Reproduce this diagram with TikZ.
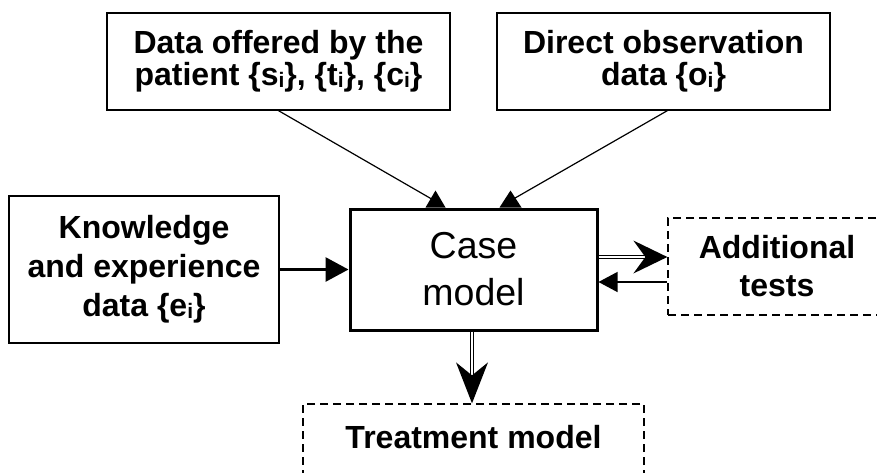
\documentclass[tikz,border=0pt]{standalone}
\usepackage{fontspec}
\setmainfont{Liberation Sans}
\usetikzlibrary{arrows.meta,calc}
\newcommand\subi{\raisebox{-0.06em}{\fontsize{21}{21}\selectfont i}}
\begin{document}
\begin{tikzpicture}[x=1pt,y=-1pt,
  box/.style={draw, line width=1.3pt, inner sep=0pt, align=center, font={\fontsize{32}{32}\selectfont\bfseries}},
  dbox/.style={box, dash pattern=on 8pt off 5pt},
  conn/.style={line width=1.2pt},
  dbl/.style={double, double distance=2.4pt, line width=0.9pt}]
\useasboundingbox (0,0) rectangle (877,472);

\node[box, minimum width=343pt, minimum height=97pt] (pat) at (278.5,61.5)
  {Data offered by the\\patient \{s\subi\}, \{t\subi\}, \{c\subi\}};
\node[box, minimum width=333pt, minimum height=97pt] (obs) at (663.5,61.5)
  {Direct observation\\data \{o\subi\}};
\node[box, minimum width=270pt, minimum height=147pt, font={\fontsize{32}{39}\selectfont\bfseries}] (know) at (144,269.5)
  {Knowledge\\and experience\\data \{e\subi\}};
\node[box, line width=3pt, minimum width=247pt, minimum height=121pt, font={\fontsize{37.5}{47}\selectfont}] (case) at (473.5,269.5)
  {Case\\model};
\node[dbox, minimum width=218pt, minimum height=97pt, font={\fontsize{32}{38}\selectfont\bfseries}] (add) at (777,266.5)
  {Additional\\tests};
\node[dbox, anchor=base, minimum width=341pt, text height=44pt, text depth=40pt] (treat) at (473.5,448)
  {Treatment model};

% patient -> case
\coordinate (c1) at ($(case.north west)+(87,0)$);
\draw[conn] (pat.south) -- ($(c1)+(-3,-8)$);
\fill ($(c1)+(-10,0)$) -- ($(c1)+(0,-17)$) -- ($(c1)+(10,0)$) -- cycle;

% observation -> case
\coordinate (o1) at ($(obs.south west)+(171,0)$);
\coordinate (c2) at ($(case.north west)+(162,0)$);
\draw[conn] (o1) -- ($(c2)+(2,-8)$);
\fill ($(c2)+(-11,0)$) -- ($(c2)+(0,-17)$) -- ($(c2)+(11,0)$) -- cycle;

% knowledge -> case
\draw[line width=3pt, -{Triangle[length=23pt,width=24pt]}] (know.east) -- (case.west);

% case -> additional tests (double)
\coordinate (a1) at ($(case.east)+(0,-12.5)$);
\coordinate (a2) at (add.west |- a1);
\draw[dbl, shorten >=20pt] (a1) -- (a2);
\fill (a2) -- ++(-34,-16.5) -- ++(12,16.5) -- ++(-12,16.5) -- cycle;

% additional tests -> case
\coordinate (r1) at ($(add.west)+(0,15.5)$);
\draw[conn, -{Triangle[length=19pt,width=20pt]}] (r1) -- (case.east |- r1);

% case -> treatment (double)
\coordinate (t1) at ($(case.south)+(-1.5,0)$);
\coordinate (t2) at (treat.north -| t1);
\draw[dbl, shorten >=25pt] (t1) -- (t2);
\fill (t2) -- ++(-16,-41) -- ++(16,13) -- ++(16,-13) -- cycle;
\end{tikzpicture}
\end{document}
